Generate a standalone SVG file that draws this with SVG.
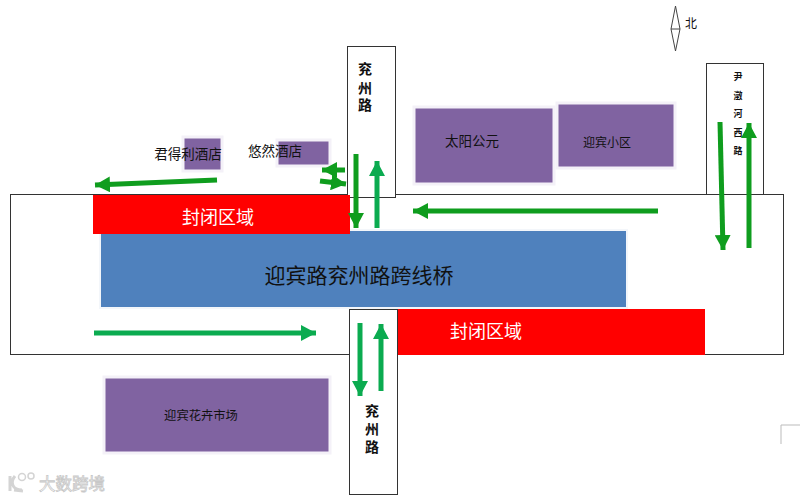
<svg xmlns="http://www.w3.org/2000/svg" width="800" height="499" viewBox="0 0 800 499">
<defs>
<style>
text{font-family:"Liberation Sans","Noto Sans CJK SC",sans-serif;fill:#111}
.road{fill:#fff;stroke:#333;stroke-width:1}
.purple{fill:#8063a1;stroke:#f4f1f8;stroke-width:3}
.red{fill:#f00}
.blue{fill:#4f81bd;stroke:#f3f6fa;stroke-width:2}
.g1{stroke:#0f9d1e;stroke-width:5;fill:none;marker-end:url(#h1)}
.g2{stroke:#0bab50;stroke-width:5;fill:none;marker-end:url(#h2)}
.rl{font-size:14px;font-weight:bold;text-anchor:middle}
.rs{font-size:9px;font-weight:bold;text-anchor:middle}
.cl{font-size:18px;fill:#fff;text-anchor:middle}
.lb{font-size:13.500px;text-anchor:middle}
</style>
<marker id="h1" markerUnits="userSpaceOnUse" markerWidth="16" markerHeight="16" refX="15" refY="8" orient="auto"><path d="M0 0L15 8L0 16Z" fill="#0f9d1e"/></marker>
<marker id="h2" markerUnits="userSpaceOnUse" markerWidth="16" markerHeight="16" refX="15" refY="8" orient="auto"><path d="M0 0L15 8L0 16Z" fill="#0bab50"/></marker>
</defs>
<rect width="800" height="499" fill="#fff"/>
<g id="main-road"><rect class="road" x="10.500" y="194.500" width="773" height="160"/></g>
<g id="road-north"><rect class="road" x="347.500" y="46.500" width="48" height="151"/><text class="rl" x="365" y="74">兖</text><text class="rl" x="365" y="93">州</text><text class="rl" x="365" y="110">路</text></g>
<g id="road-east"><rect class="road" x="706.500" y="63.500" width="57" height="131"/><text class="rs" x="738" y="80">尹</text><text class="rs" x="738" y="99">澂</text><text class="rs" x="738" y="117">河</text><text class="rs" x="738" y="136">西</text><text class="rs" x="738" y="154">路</text></g>
<g id="bridge"><rect class="blue" x="100" y="230" width="527" height="78"/><text x="359" y="283" font-size="21" text-anchor="middle">迎宾路兖州路跨线桥</text></g>
<g id="closed-west"><rect class="red" x="93" y="195" width="257" height="39"/><text class="cl" x="218" y="224">封闭区域</text></g>
<g id="closed-east"><rect class="red" x="397" y="309" width="308" height="46"/><text class="cl" x="486" y="338">封闭区域</text></g>
<g id="road-south"><rect class="road" x="349.500" y="309.500" width="48" height="185"/><text class="rl" x="372" y="416">兖</text><text class="rl" x="372" y="434">州</text><text class="rl" x="372" y="452">路</text></g>
<g id="taiyang"><rect class="purple" x="414" y="107" width="140" height="77"/><text class="lb" x="472" y="146">太阳公元</text></g>
<g id="yingbin-xiaoqu"><rect class="purple" x="557" y="103" width="118" height="65"/><text x="607" y="147" font-size="12" text-anchor="middle">迎宾小区</text></g>
<g id="hotel-junde"><rect class="purple" x="183" y="137" width="39" height="34"/><text class="lb" x="188" y="159">君得利酒店</text></g>
<g id="hotel-youran"><rect class="purple" x="277" y="140" width="53" height="26"/><text class="lb" x="275" y="156">悠然酒店</text></g>
<g id="flower-market"><rect class="purple" x="104" y="377" width="226" height="76"/><text x="201" y="420" font-size="12.300" text-anchor="middle">迎宾花卉市场</text></g>
<g id="connectors">
<path class="g1" d="M217 180L95 185"/>
<path class="g1" d="M345 170L322 170"/>
<path class="g1" d="M320 181L346 184"/>
<path class="g1" d="M356 154L356 228"/>
<path class="g2" d="M377 228L377 161"/>
<path class="g1" d="M658 211L413 211"/>
<path class="g1" d="M720 122L723 250"/>
<path class="g1" d="M749 248L749 123"/>
<path class="g2" d="M94 333L316 333"/>
<path class="g2" d="M360 323L360 396"/>
<path class="g2" d="M381 391L381 324"/>
</g>
<g id="north-mark" fill="none" stroke="#444" stroke-width="1"><path d="M675.500 6L671 29L675.500 51L680 29ZM671 29L680 29"/><text x="685" y="28" font-size="12" fill="#333" stroke="none">北</text></g>
<path d="M781 444L781 425L800 425" fill="none" stroke="#bbb" stroke-width="1"/>
<g id="watermark"><path d="M10 476L10 491M14 490L23 491M15 476C10 482 12 490 22 490" fill="none" stroke="#d4d4d4" stroke-width="3"/><circle cx="22" cy="477" r="3.500" fill="#fff" stroke="#d4d4d4" stroke-width="1.500"/><circle cx="31" cy="476" r="3" fill="#fff" stroke="#d4d4d4" stroke-width="1.500"/><text x="39" y="490" font-size="16.500" style="fill:#fff;stroke:#c8c8c8;stroke-width:.8">大数跨境</text></g>
</svg>
